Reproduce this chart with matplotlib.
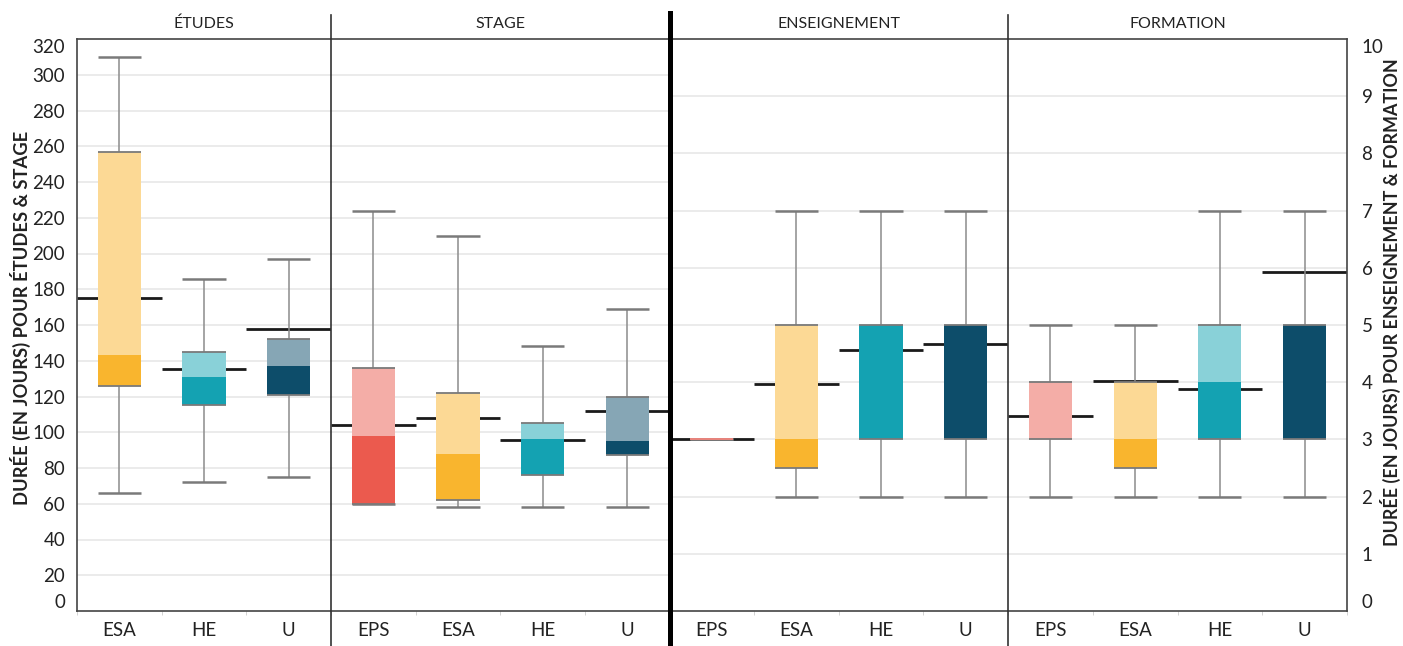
import matplotlib
matplotlib.use("Agg")
import matplotlib.pyplot as plt
from matplotlib.lines import Line2D
import numpy as np

plt.rcParams["font.family"] = ["Lato", "DejaVu Sans"]

W, H = 1403, 646

# --- data ---
etudes_cats = ["ESA", "HE", "U"]
etudes_low = [66, 72, 75]
etudes_q1 = [126, 115, 121]
etudes_med = [143, 131, 137]
etudes_q3 = [257, 145, 152]
etudes_high = [310, 186, 197]
etudes_mean = [175, 135.5, 157.5]

stage_cats = ["EPS", "ESA", "HE", "U"]
stage_low = [60, 58, 58, 58]
stage_q1 = [60, 62, 76, 87]
stage_med = [98, 88, 96, 95]
stage_q3 = [136, 122, 105, 120]
stage_high = [224, 210, 148, 169]
stage_mean = [104, 108, 95.5, 112]

ens_cats = ["EPS", "ESA", "HE", "U"]
ens_low = [3, 2, 2, 2]
ens_q1 = [3, 2.5, 3, 3]
ens_med = [3, 3, 5, 5]
ens_q3 = [3, 5, 5, 5]
ens_high = [3, 7, 7, 7]
ens_mean = [3.0, 3.97, 4.56, 4.66]

form_cats = ["EPS", "ESA", "HE", "U"]
form_low = [2, 2, 2, 2]
form_q1 = [3, 2.5, 3, 3]
form_med = [3, 3, 4, 5]
form_q3 = [4, 4, 5, 5]
form_high = [5, 5, 7, 7]
form_mean = [3.41, 4.02, 3.88, 5.92]

panel_titles = ["ÉTUDES", "STAGE", "ENSEIGNEMENT", "FORMATION"]

DARK = {"EPS": "#EB5A4E", "ESA": "#F9B52E", "HE": "#14A2B2", "U": "#0D4D6A"}
LIGHT = {"EPS": "#F4ADA7", "ESA": "#FCD995", "HE": "#89D1D8", "U": "#86A6B5"}

FRAME = "#444444"
BOX_W = 0.51


def fx(px):
    return px / W


def fy(py):
    return 1 - py / H


def draw_panel(ax, cats, low, q1, med, q3, high, mean, ymax, step):
    n = len(cats)
    x = np.arange(n) + 0.5
    low, q1, med, q3, high, mean = map(np.asarray, (low, q1, med, q3, high, mean))
    ax.set_xlim(0, n)
    ax.set_ylim(0, ymax)
    for g in np.arange(step, ymax, step):
        ax.axhline(g, color="#e6e6e6", lw=1.1, zorder=0)

    ax.hlines(mean, x - 0.5, x + 0.5, color="#1a1a1a", lw=2.0, zorder=1)
    ax.vlines(x, q3, high, color="#8c8c8c", lw=1.1, zorder=2)
    ax.vlines(x, low, q1, color="#8c8c8c", lw=1.1, zorder=2)
    ax.hlines(high, x - BOX_W / 2, x + BOX_W / 2, color="#7a7a7a", lw=1.8, zorder=2)
    ax.hlines(low, x - BOX_W / 2, x + BOX_W / 2, color="#7a7a7a", lw=1.8, zorder=2)

    ax.bar(x, med - q1, bottom=q1, width=BOX_W, color=[DARK[c] for c in cats], zorder=3)
    ax.bar(x, q3 - med, bottom=med, width=BOX_W, color=[LIGHT[c] for c in cats], zorder=3)
    for i, c in enumerate(cats):
        edge = "#E8847D" if q3[i] == q1[i] else "#7a7a7a"
        ax.hlines([q1[i], q3[i]], x[i] - BOX_W / 2, x[i] + BOX_W / 2, color=edge, lw=1.3, zorder=4)

    ax.set_xticks(x, cats)
    ax.set_xticks(np.arange(n + 1), minor=True)
    ax.tick_params(axis="x", which="major", length=0, pad=8, labelsize=13.5, labelcolor="#222222")
    ax.tick_params(axis="x", which="minor", length=3, color="#cccccc")
    ax.tick_params(axis="y", left=False, right=False, labelleft=False, labelright=False)
    for side in ("left", "right"):
        ax.spines[side].set_visible(False)
    for side in ("top", "bottom"):
        ax.spines[side].set_color(FRAME)
        ax.spines[side].set_linewidth(1.2)


fig = plt.figure(figsize=(W / 100, H / 100), dpi=100)

edges = [77, 331, 669.5, 1008, 1347]
top_px, bot_px = 39, 611
axes = []
for i in range(4):
    ax = fig.add_axes([fx(edges[i]), fy(bot_px), fx(edges[i + 1] - edges[i]), (bot_px - top_px) / H])
    axes.append(ax)

draw_panel(axes[0], etudes_cats, etudes_low, etudes_q1, etudes_med, etudes_q3, etudes_high, etudes_mean, 320, 20)
draw_panel(axes[1], stage_cats, stage_low, stage_q1, stage_med, stage_q3, stage_high, stage_mean, 320, 20)
draw_panel(axes[2], ens_cats, ens_low, ens_q1, ens_med, ens_q3, ens_high, ens_mean, 10, 1)
draw_panel(axes[3], form_cats, form_low, form_q1, form_med, form_q3, form_high, form_mean, 10, 1)

# left axis
ax0 = axes[0]
ax0.spines["left"].set_visible(True)
ax0.spines["left"].set_color(FRAME)
ax0.spines["left"].set_linewidth(1.2)
ax0.set_yticks(np.arange(0, 321, 20))
ax0.tick_params(axis="y", left=False, labelleft=True, pad=5, labelsize=13.5, labelcolor="#222222")
ticks = ax0.yaxis.get_major_ticks()
ticks[0].label1.set_va("bottom")
ticks[-1].label1.set_va("top")

# right axis
ax3 = axes[3]
ax3.spines["right"].set_visible(True)
ax3.spines["right"].set_color(FRAME)
ax3.spines["right"].set_linewidth(1.2)
ax3.yaxis.tick_right()
ax3.set_yticks(np.arange(0, 11, 1))
ax3.tick_params(axis="y", right=False, labelright=True, left=False, labelleft=False,
                pad=7, labelsize=13.5, labelcolor="#222222")
ticks = ax3.yaxis.get_major_ticks()
ticks[0].label2.set_va("bottom")
ticks[-1].label2.set_va("top")

# panel dividers
fig.add_artist(Line2D([fx(331), fx(331)], [0, fy(15)], transform=fig.transFigure, color="#333333", lw=1.2))
fig.add_artist(Line2D([fx(669.5), fx(669.5)], [0, fy(13)], transform=fig.transFigure, color="#000000", lw=3.6))
fig.add_artist(Line2D([fx(1008), fx(1008)], [0, fy(15)], transform=fig.transFigure, color="#333333", lw=1.2))

# panel headers
for i, title in enumerate(panel_titles):
    cx = (edges[i] + edges[i + 1]) / 2
    fig.text(fx(cx), fy(24), title, ha="center", va="center", fontsize=11.5, color="#222222")

fig.text(fx(20), fy(318), "DURÉE (EN JOURS) POUR ÉTUDES & STAGE", rotation=90,
         ha="center", va="center", fontsize=13.2, fontweight="bold", color="#222222")
fig.text(fx(1390), fy(302), "DURÉE (EN JOURS) POUR ENSEIGNEMENT & FORMATION", rotation=90,
         ha="center", va="center", fontsize=12.9, fontweight="bold", color="#222222")

fig.savefig("out.png", dpi=100)
